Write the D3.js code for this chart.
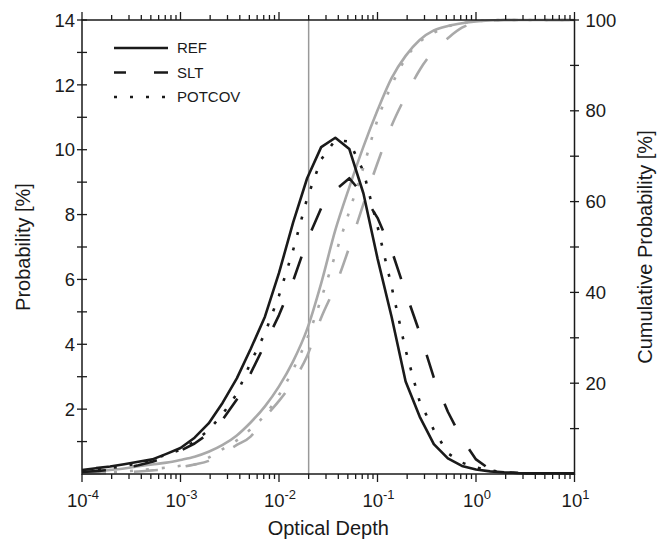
<!DOCTYPE html>
<html>
<head>
<meta charset="utf-8">
<script src="https://cdn.jsdelivr.net/npm/d3@7"></script>
<style>
  body { margin: 0; background: #fff; }
  svg { display: block; font-family: "Liberation Sans", Arial, sans-serif; }
</style>
</head>
<body>
<svg id="chart" width="665" height="540"></svg>
<script>
// optical depth bins (7 per decade)
const depth = [
  1.0e-4, 1.39e-4, 1.93e-4, 2.68e-4, 3.73e-4, 5.18e-4, 7.20e-4,
  1.0e-3, 1.39e-3, 1.93e-3, 2.68e-3, 3.73e-3, 5.18e-3, 7.20e-3,
  1.0e-2, 1.39e-2, 1.93e-2, 2.68e-2, 3.73e-2, 5.18e-2, 7.20e-2,
  0.100, 0.139, 0.193, 0.268, 0.373, 0.518, 0.720,
  1.00, 1.39, 1.93, 2.68, 3.73, 5.18, 7.20,
  10.0
]

// probability [%]
const ref = [0.12,0.18,0.23,0.30,0.38,0.45,0.62,0.80,1.12,1.56,2.2,2.95,3.87,4.85,6.2,7.75,9.12,10.08,10.37,10.02,8.65,6.65,4.85,2.85,1.77,0.92,0.48,0.25,0.14,0.08,0.05,0.03,0.02,0.02,0.02,0.02]
const slt = [0.06,0.09,0.13,0.18,0.27,0.38,0.52,0.72,0.94,1.25,1.68,2.3,3.12,4.0,4.9,5.95,7.2,8.2,8.75,9.12,8.6,7.9,6.9,5.6,4.36,2.97,1.92,1.08,0.45,0.14,0.06,0.03,0.02,0.02,0.02,0.02]
const potcov = [0.08,0.12,0.18,0.25,0.33,0.45,0.6,0.75,1.0,1.35,1.85,2.47,3.45,4.34,5.5,6.9,8.5,9.7,10.3,10.25,9.33,7.64,5.78,3.82,2.23,1.36,0.64,0.35,0.2,0.11,0.06,0.03,0.02,0.02,0.02,0.02]

// cumulative probability [%]
const refCum = [0.4,0.6,0.9,1.2,1.7,2.1,2.5,3.1,3.8,4.9,6.4,8.5,11.4,14.9,19.3,24.8,31.9,42.0,53.7,63.2,72.1,80.1,87.2,92.1,95.6,97.7,98.7,99.3,99.7,99.9,100,100,100,100,100,100]
const sltCum = [0.05,0.1,0.2,0.35,0.55,0.8,1.0,1.5,2.1,2.9,4.6,6.4,8.3,12.5,16.1,20.4,26.0,34.4,41.4,50.0,59.5,68.5,76.7,83.2,89.0,93.2,96.0,98.3,99.4,99.8,100,100,100,100,100,100]
const potcovCum = [0.1,0.2,0.35,0.55,0.8,1.1,1.4,1.8,2.1,3.6,5.5,7.4,9.9,13.0,17.4,23.0,29.8,38.6,48.3,57.9,67.6,78.0,85.6,91.5,95.2,97.2,98.6,99.3,99.7,99.9,100,100,100,100,100,100]

const xExponents = [-4, -3, -2, -1, 0, 1]
const leftTicks = [2, 4, 6, 8, 10, 12, 14]
const rightTicks = [20, 40, 60, 80, 100]
const markerDepth = 0.02
const legendNames = ["REF", "SLT", "POTCOV"]

const BLACK = "#1a1a1a"
const GRAY = "#a9a9a9"
const DASH = "24,28"
const DOT = "3,13"

const margin = {left: 82, right: 90.5, top: 20, bottom: 66}
const width = 665, height = 540
const svg = d3.select("#chart")

const x = d3.scaleLog().domain([1e-4, 10]).range([margin.left, width - margin.right])
const yL = d3.scaleLinear().domain([0, 14]).range([height - margin.bottom, margin.top])
const yR = d3.scaleLinear().domain([0, 100]).range([height - margin.bottom, margin.top])
const x0 = x.range()[0], x1 = x.range()[1]
const yTop = yL.range()[1], yBot = yL.range()[0]

// vertical marker
svg.append("line")
  .attr("x1", x(markerDepth)).attr("x2", x(markerDepth))
  .attr("y1", yTop).attr("y2", yBot)
  .attr("stroke", "#999").attr("stroke-width", 1.5)

function addLine(values, scale, color, dash, curve) {
  const line = d3.line()
    .x((d, i) => x(depth[i]))
    .y(d => scale(d))
    .curve(curve)
  svg.append("path")
    .datum(values)
    .attr("d", line)
    .attr("fill", "none")
    .attr("stroke", color)
    .attr("stroke-width", 2.6)
    .attr("stroke-linejoin", "round")
    .attr("stroke-dasharray", dash)
}

// cumulative (grey, right axis)
addLine(sltCum, yR, GRAY, DASH, d3.curveMonotoneX)
addLine(potcovCum, yR, GRAY, DOT, d3.curveMonotoneX)
addLine(refCum, yR, GRAY, null, d3.curveMonotoneX)
// probability (black, left axis)
addLine(slt, yL, BLACK, DASH, d3.curveLinear)
addLine(potcov, yL, BLACK, DOT, d3.curveLinear)
addLine(ref, yL, BLACK, null, d3.curveLinear)

// frame
svg.append("rect")
  .attr("x", x0).attr("y", yTop)
  .attr("width", x1 - x0).attr("height", yBot - yTop)
  .attr("fill", "none").attr("stroke", BLACK).attr("stroke-width", 1.5)

// x ticks, top and bottom
const minor = []
xExponents.slice(0, -1).forEach(e => {
  for (let m = 2; m <= 9; m++) minor.push(m * Math.pow(10, e))
})
const ticks = svg.append("g").attr("stroke", BLACK).attr("stroke-width", 1.3)
xExponents.forEach(e => {
  const px = x(Math.pow(10, e))
  ticks.append("line").attr("x1", px).attr("x2", px).attr("y1", yBot).attr("y2", yBot + 8)
  ticks.append("line").attr("x1", px).attr("x2", px).attr("y1", yTop).attr("y2", yTop - 8)
})
minor.forEach(v => {
  const px = x(v)
  ticks.append("line").attr("x1", px).attr("x2", px).attr("y1", yBot).attr("y2", yBot + 5)
  ticks.append("line").attr("x1", px).attr("x2", px).attr("y1", yTop).attr("y2", yTop - 5)
})

// y ticks crossing the axis lines
for (let v = 1; v <= 14; v++) {
  ticks.append("line").attr("x1", x0 - 5).attr("x2", x0 + 5).attr("y1", yL(v)).attr("y2", yL(v))
}
for (let v = 10; v <= 100; v += 10) {
  ticks.append("line").attr("x1", x1 - 4.5).attr("x2", x1 + 4.5).attr("y1", yR(v)).attr("y2", yR(v))
}

// tick labels
const labels = svg.append("g").attr("fill", BLACK).attr("font-size", 18.5)
leftTicks.forEach(v => {
  labels.append("text").attr("x", x0 - 7).attr("y", yL(v)).attr("dy", "0.36em")
    .attr("text-anchor", "end").text(v)
})
rightTicks.forEach(v => {
  labels.append("text").attr("x", x1 + 11).attr("y", yR(v)).attr("dy", "0.36em")
    .attr("text-anchor", "start").text(v)
})
xExponents.forEach(e => {
  const t = labels.append("text").attr("x", x(Math.pow(10, e)) + 1).attr("y", yBot + 33)
    .attr("text-anchor", "middle")
  t.append("tspan").text("10")
  t.append("tspan").attr("dy", -8).attr("font-size", 13).text(e)
})

// axis titles
const titles = svg.append("g").attr("fill", BLACK).attr("font-size", 20).attr("text-anchor", "middle")
titles.append("text").attr("x", (x0 + x1) / 2).attr("y", 535).text("Optical Depth")
titles.append("text").attr("transform", `translate(30,${(yTop + yBot) / 2}) rotate(-90)`).text("Probability [%]")
titles.append("text").attr("transform", `translate(652,${(yTop + yBot) / 2}) rotate(-90)`).text("Cumulative Probability [%]")

// legend
const dashes = [null, DASH, DOT]
const legend = svg.append("g")
legendNames.forEach((name, i) => {
  const ly = 48 + i * 24.5
  legend.append("line")
    .attr("x1", 114).attr("x2", 168).attr("y1", ly).attr("y2", ly)
    .attr("stroke", BLACK).attr("stroke-width", 2.6)
    .attr("stroke-dasharray", dashes[i])
    .attr("stroke-dashoffset", i == 1 ? 12 : 0)
  legend.append("text")
    .attr("x", 177).attr("y", ly).attr("dy", "0.36em")
    .attr("font-size", 15).attr("fill", BLACK).text(name)
})
</script>
</body>
</html>
